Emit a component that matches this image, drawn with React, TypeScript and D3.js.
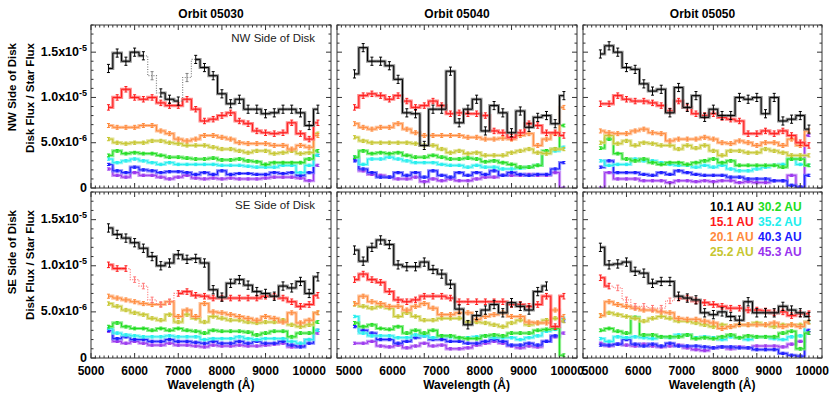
import React from 'react';
import * as d3 from 'd3';

// wavelength bins (Angstrom), values are disk/star flux in units of 1e-6
const wavelengths = [5400, 5600, 5800, 6000, 6200, 6400, 6600, 6800, 7000, 7200, 7400, 7600, 7800,
  8000, 8200, 8400, 8600, 8800, 9000, 9200, 9400, 9600, 9800, 10000, 10200];

const distances = ['10.1 AU', '15.1 AU', '20.1 AU', '25.2 AU', '30.2 AU', '35.2 AU', '40.3 AU', '45.3 AU'];
const colors = ['#000000', '#ff1a1a', '#ff8a3c', '#c6c630', '#22dd22', '#22eeee', '#1a1aff', '#9933ee'];
const errSizes = [0.45, 0.3, 0.22, 0.18, 0.15, 0.13, 0.12, 0.12];
const orbits = ['Orbit 05030', 'Orbit 05040', 'Orbit 05050'];
const sides = ['NW Side of Disk', 'SE Side of Disk'];

const yTickValues = [0, 5, 10, 15];
const yTickMantissa = ['0', '5.0x10', '1.0x10', '1.5x10'];
const yTickExponent = ['', '-6', '-5', '-5'];
const xTickValues = [5000, 6000, 7000, 8000, 9000, 10000];

const nw05030 = [
  [13.2, 14.9, 14.0, 15.0, 14.6, 12.4, 10.5, 9.8, 9.6, 12.2, 14.2, 13.3, 12.4, 10.4, 9.3, 9.8, 8.7, 8.7, 8.2, 8.3, 8.7, 8.7, 8.3, 6.9, 8.7],
  [8.9, 10.0, 10.9, 10.0, 9.8, 10.0, 9.4, 9.1, 9.1, 9.8, 8.7, 7.4, 7.6, 8.0, 8.3, 7.4, 7.1, 6.3, 6.1, 6.0, 6.1, 7.2, 6.0, 5.4, 7.2],
  [6.9, 6.7, 6.7, 6.7, 6.9, 6.9, 6.3, 6.0, 5.4, 5.2, 5.4, 5.8, 5.8, 5.6, 5.4, 5.0, 4.9, 4.9, 4.9, 4.7, 4.7, 4.3, 4.7, 4.5, 5.8],
  [5.4, 5.0, 4.9, 5.0, 5.0, 5.2, 5.2, 5.0, 4.9, 4.7, 4.7, 4.7, 4.5, 4.3, 4.3, 4.1, 3.9, 4.1, 4.1, 3.8, 3.9, 4.1, 3.8, 3.9, 6.0],
  [3.6, 4.1, 3.8, 3.9, 3.8, 3.8, 3.6, 3.4, 3.4, 3.3, 3.2, 3.2, 3.3, 3.1, 3.1, 3.2, 3.0, 2.9, 2.6, 2.8, 2.8, 2.8, 2.8, 3.2, 4.1],
  [3.2, 2.8, 3.0, 3.2, 3.0, 2.8, 2.6, 2.8, 2.6, 2.6, 2.6, 2.6, 2.6, 2.5, 2.5, 2.5, 2.4, 2.3, 2.3, 2.3, 2.5, 2.5, 1.7, 2.5, 3.6],
  [2.6, 1.9, 1.7, 2.3, 2.0, 1.9, 1.7, 1.8, 1.8, 1.7, 1.5, 1.7, 1.5, 1.9, 1.5, 1.6, 1.6, 1.5, 1.5, 1.7, 1.6, 1.7, 1.4, 1.7, 3.6],
  [2.1, 1.4, 1.2, 1.7, 1.4, 1.4, 1.2, 1.0, 1.2, 1.4, 1.1, 1.0, 1.1, 1.0, 1.1, 1.0, 1.0, 1.0, 1.1, 1.2, 1.2, 1.2, 1.1, 0.8, 2.5],
];

const nw05040 = [
  [12.6, 15.5, 14.0, 14.0, 13.5, 12.0, 8.3, 8.2, 4.7, 8.7, 8.7, 12.9, 7.2, 8.7, 9.8, 6.3, 9.1, 8.3, 6.1, 8.5, 6.7, 7.8, 8.0, 7.1, 10.2],
  [8.9, 10.2, 10.4, 10.2, 9.8, 10.2, 9.6, 8.9, 9.1, 9.6, 9.1, 8.2, 8.3, 8.2, 8.2, 8.0, 6.3, 6.1, 5.6, 6.1, 7.1, 6.9, 6.1, 6.1, 5.8],
  [7.1, 6.7, 6.5, 6.7, 6.7, 7.1, 6.5, 6.1, 5.8, 5.8, 5.8, 5.8, 5.8, 5.6, 5.6, 5.4, 5.4, 5.5, 5.4, 5.8, 6.0, 4.7, 5.4, 6.0, 8.9],
  [5.6, 5.2, 5.0, 5.0, 5.0, 5.0, 5.0, 4.9, 4.7, 4.7, 4.3, 3.9, 4.1, 3.8, 3.9, 3.6, 3.6, 3.6, 3.9, 4.1, 4.3, 3.9, 3.8, 4.3, 4.3],
  [3.4, 4.1, 3.8, 3.9, 3.8, 3.9, 3.6, 3.4, 3.4, 3.6, 3.4, 3.2, 3.2, 3.3, 3.2, 2.9, 3.0, 2.8, 2.6, 2.3, 2.3, 2.5, 4.1, 4.3, 6.9],
  [3.4, 2.6, 3.2, 3.2, 3.4, 3.2, 3.0, 2.8, 2.8, 2.8, 2.6, 2.5, 2.5, 2.3, 2.5, 2.3, 2.3, 2.1, 2.1, 2.2, 2.3, 2.5, 3.9, 4.1, 4.5],
  [3.0, 2.1, 1.7, 1.2, 1.2, 1.7, 1.4, 1.7, 1.2, 1.9, 1.4, 1.2, 1.7, 1.4, 1.7, 1.5, 1.9, 1.4, 1.7, 1.5, 1.4, 1.5, 1.5, 2.1, 2.8],
  [3.2, 1.9, 1.5, 1.4, 1.2, 1.0, 1.0, 1.2, 0.7, 1.0, 0.8, 1.0, 0.8, 0.8, 1.0, 1.2, 1.2, 1.4, 1.4, 1.4, 1.5, 1.4, 1.4, 1.7, 0.0],
];

const nw05050 = [
  [14.8, 15.7, 15.0, 13.3, 13.1, 11.5, 10.7, 10.9, 8.3, 11.1, 8.9, 10.2, 7.8, 8.7, 8.0, 8.0, 10.0, 9.8, 10.0, 8.2, 10.0, 7.4, 7.6, 8.0, 6.5],
  [9.3, 9.3, 10.2, 9.8, 9.6, 9.6, 9.4, 9.1, 8.5, 9.6, 8.9, 8.2, 8.0, 8.2, 7.8, 7.6, 7.4, 6.0, 6.0, 6.3, 6.0, 6.3, 5.8, 5.0, 4.7],
  [6.3, 6.1, 6.0, 6.0, 6.3, 6.5, 6.1, 6.0, 5.2, 5.4, 5.4, 5.4, 5.6, 5.4, 5.0, 4.9, 5.2, 5.0, 4.7, 5.0, 5.0, 4.7, 5.4, 4.7, 6.3],
  [5.0, 5.8, 4.9, 5.2, 4.7, 5.0, 4.9, 4.7, 4.7, 4.3, 4.7, 4.4, 4.7, 4.1, 3.6, 4.1, 4.1, 3.9, 3.9, 4.3, 4.1, 3.9, 3.6, 3.6, 3.6],
  [4.4, 5.4, 3.8, 3.2, 3.0, 3.2, 2.8, 2.6, 2.8, 2.8, 2.6, 2.8, 3.0, 3.2, 2.8, 3.0, 2.5, 2.5, 2.5, 2.5, 2.5, 2.3, 3.2, 3.2, 2.5],
  [3.0, 2.5, 2.6, 2.6, 3.2, 3.0, 3.0, 2.8, 2.6, 2.5, 2.5, 2.3, 2.5, 2.3, 2.5, 2.1, 1.9, 1.9, 2.1, 2.3, 2.5, 2.6, 3.2, 2.6, 2.5],
  [2.3, 3.0, 1.7, 1.7, 1.7, 1.5, 1.4, 1.7, 1.5, 1.9, 1.7, 1.5, 1.4, 1.4, 1.4, 1.2, 1.2, 1.0, 1.0, 1.0, 0.8, 0.8, 0.3, 0.1, 1.4],
  [0.0, 1.7, 1.0, 1.0, 1.0, 0.8, 0.8, 0.8, 0.6, 0.8, 0.8, 0.7, 0.8, 0.7, 0.8, 0.8, 0.6, 0.7, 0.6, 0.6, 0.8, 0.8, 1.4, 0.1, 5.8],
];

const se05030 = [
  [14.1, 13.4, 13.0, 12.5, 11.9, 11.0, 10.0, 10.3, 11.2, 10.7, 10.8, 10.3, 7.4, 6.6, 8.1, 8.5, 7.9, 7.2, 7.0, 6.7, 7.8, 7.6, 8.3, 7.0, 8.8],
  [10.1, 9.7, 9.7, 8.5, 7.8, 6.3, 5.8, 6.1, 7.0, 7.2, 6.8, 6.7, 6.5, 6.5, 6.5, 6.5, 6.5, 6.5, 6.7, 6.7, 6.5, 6.1, 5.6, 5.8, 6.8],
  [6.7, 6.5, 6.3, 6.1, 5.9, 5.8, 5.8, 6.1, 4.5, 5.2, 4.5, 5.9, 5.0, 4.9, 4.7, 4.5, 4.3, 4.1, 4.5, 4.3, 3.9, 4.9, 3.8, 4.1, 4.9],
  [5.9, 5.6, 5.2, 4.9, 4.7, 4.3, 4.1, 4.7, 3.9, 4.7, 4.3, 3.9, 4.5, 4.3, 4.1, 4.1, 3.9, 3.8, 3.9, 3.9, 4.1, 3.6, 3.4, 3.6, 4.9],
  [3.4, 3.8, 3.4, 3.2, 3.2, 3.0, 3.2, 3.0, 3.2, 3.0, 2.9, 2.7, 3.0, 2.9, 2.9, 2.9, 2.8, 2.5, 2.7, 2.9, 2.9, 2.3, 2.7, 2.7, 3.9],
  [3.2, 2.7, 2.5, 2.4, 2.3, 2.3, 2.3, 2.4, 2.3, 2.3, 2.3, 2.0, 2.1, 2.1, 2.1, 2.3, 2.1, 2.0, 2.1, 2.1, 2.1, 1.8, 1.6, 2.0, 3.0],
  [3.0, 2.1, 2.3, 2.0, 2.0, 1.8, 1.8, 2.0, 1.8, 1.8, 1.7, 1.6, 1.8, 1.6, 1.6, 1.8, 1.6, 1.8, 1.6, 1.6, 1.8, 1.4, 1.2, 1.6, 3.0],
  [2.9, 1.8, 1.6, 1.8, 1.6, 1.4, 1.4, 1.6, 1.4, 1.4, 1.3, 1.2, 1.4, 1.3, 1.3, 1.4, 1.3, 1.3, 1.4, 1.5, 1.6, 1.2, 1.4, 2.0, 2.7],
];

const se05040 = [
  [11.7, 10.5, 12.0, 12.8, 12.3, 10.1, 9.9, 9.9, 10.4, 9.6, 9.1, 8.0, 5.3, 3.6, 4.6, 5.2, 5.8, 4.9, 6.0, 5.6, 5.2, 7.2, 7.8, null, null],
  [8.5, 9.1, 8.5, 8.2, 7.2, 6.3, 6.1, 6.3, 6.7, 6.7, 6.7, 6.5, 6.1, 6.1, 6.1, 6.1, 6.1, 6.1, 5.8, 5.8, 5.6, 5.8, 6.7, 3.4, 6.7],
  [5.9, 6.7, 6.1, 5.9, 5.6, 5.6, 5.2, 5.6, 5.9, 5.4, 4.7, 4.7, 4.9, 4.9, 4.2, 4.5, 4.7, 4.9, 4.5, 4.5, 3.9, 3.8, 3.8, 5.2, 4.5],
  [5.8, 5.6, 5.4, 5.6, 5.4, 4.5, 4.9, 4.5, 4.1, 4.1, 4.3, 4.3, 4.3, 3.9, 3.9, 3.8, 3.6, 3.4, 3.8, 4.1, 3.6, 3.8, 4.1, 4.3, 4.0],
  [3.8, 3.4, 3.6, 3.2, 3.1, 3.4, 2.7, 3.0, 2.7, 3.0, 2.4, 2.4, 2.2, 2.1, 2.1, 2.4, 2.5, 2.4, 2.7, 2.7, 2.7, 3.0, 3.1, 3.2, 0.3],
  [4.5, 2.7, 2.4, 2.4, 2.4, 2.2, 2.2, 2.5, 2.4, 2.2, 2.4, 2.3, 2.2, 2.2, 2.3, 2.4, 2.2, 2.2, 2.2, 2.0, 2.2, 2.4, 2.9, 3.1, 4.3],
  [3.4, 3.0, 2.7, 2.0, 2.0, 1.6, 1.8, 2.2, 2.4, 2.0, 2.0, 1.8, 1.8, 1.6, 1.6, 1.8, 2.0, 1.8, 1.4, 1.4, 1.6, 1.4, 1.8, 2.4, 4.0],
  [1.6, 1.6, 1.8, 1.3, 1.2, 1.4, 1.1, 1.3, 1.6, 1.3, 1.4, 1.0, 1.0, 1.1, 1.4, 1.6, 1.8, 1.6, 1.3, 1.1, 1.3, 1.2, 1.8, 2.3, 2.7],
];

const se05050 = [
  [12.0, 10.1, 10.2, 10.4, 9.4, 9.2, 8.1, 8.3, 8.3, 6.7, 6.5, 6.3, 4.9, 4.7, 5.0, 4.5, 4.1, 6.1, 4.9, 4.9, 4.9, 5.6, 5.2, 4.9, 4.5],
  [8.7, 7.8, 7.6, 6.3, 5.6, 5.6, 5.4, 5.4, 6.2, 6.5, 6.5, 6.2, 6.0, 5.8, 5.6, 5.4, 5.4, 5.2, 5.2, 5.1, 4.9, 5.0, 4.6, 4.8, 4.8],
  [4.6, 6.1, 5.8, 5.6, 5.4, 5.2, 5.2, 5.0, 4.9, 4.3, 4.2, 4.2, 4.0, 3.8, 3.2, 3.4, 3.6, 3.6, 3.6, 3.6, 3.8, 3.4, 3.6, 3.4, 3.9],
  [4.6, 4.9, 4.7, 4.5, 4.3, 4.0, 4.3, 4.5, 4.3, 4.0, 4.0, 3.8, 3.6, 3.4, 3.6, 3.4, 3.6, 3.6, 3.8, 3.6, 3.4, 3.6, 3.6, 3.6, 3.9],
  [3.0, 3.2, 2.9, 2.7, 4.4, 2.5, 2.5, 2.3, 2.3, 2.3, 2.5, 2.1, 2.2, 2.1, 2.3, 2.5, 2.2, 2.4, 2.3, 2.3, 2.3, 2.7, 2.9, 1.0, 2.7],
  [2.1, 1.8, 2.3, 2.2, 2.3, 2.2, 2.1, 2.3, 2.2, 2.5, 2.5, 2.2, 2.3, 2.2, 2.0, 2.3, 2.2, 2.0, 2.3, 2.3, 2.1, 2.0, 2.3, 2.4, 3.9],
  [1.4, 1.4, 1.5, 2.0, 1.5, 1.3, 1.5, 1.3, 1.6, 1.3, 1.3, 1.3, 1.2, 1.1, 1.2, 1.2, 1.1, 1.1, 0.9, 0.9, 0.9, 0.5, 0.3, 0.2, 3.0],
  [1.6, 1.3, 1.5, 1.4, 1.3, 1.5, 1.3, 1.2, 1.3, 1.4, 1.1, 0.9, 0.8, 1.1, 1.2, 1.0, 1.2, 1.1, 1.3, 1.3, 1.3, 1.2, 1.5, 1.8, 2.7],
];

const panels = [[nw05030, nw05040, nw05050], [se05030, se05040, se05050]];

// stretches drawn as a dotted line: [row, col, series, from, to]
const dottedSpans = [
  [0, 0, 0, 6200, 6600],
  [0, 0, 0, 7000, 7400],
  [1, 0, 1, 5800, 7000],
  [1, 2, 1, 5600, 7200],
];

const W = 830;
const H = 394;
const colX = [[91, 331], [337, 577], [583, 822]];
const rowY = [[25, 188], [192, 358]];
const labelShift = [0, 12, 12];
const FONT = '"Liberation Sans", Arial, sans-serif';
const frameColor = '#333';

type Pt = { wl: number; v: number | null };

function Panel({ row, col }: { row: number; col: number }) {
  const [x0, x1] = colX[col];
  const [y0, y1] = rowY[row];
  const x = d3.scaleLinear().domain([5000, 10500]).range([x0, x1]);
  const y = d3.scaleLinear().domain([0, 18]).range([y1, y0]);
  const data = panels[row][col];
  const clipId = `clip-${row}-${col}`;

  const minorX = d3.range(5000, 10501, 100);
  const minorY = d3.range(0, 18.01, 1);

  const ticks: JSX.Element[] = [];
  minorX.forEach((v, i) => {
    const len = v % 1000 === 0 ? 5 : 2.5;
    const px = x(v);
    ticks.push(<line key={'xb' + i} x1={px} x2={px} y1={y1} y2={y1 - len} />);
    ticks.push(<line key={'xt' + i} x1={px} x2={px} y1={y0} y2={y0 + len} />);
  });
  minorY.forEach((v, i) => {
    const len = Math.round(v) % 5 === 0 ? 5 : 2.5;
    const py = y(v);
    ticks.push(<line key={'yl' + i} x1={x0} x2={x0 + len} y1={py} y2={py} />);
    ticks.push(<line key={'yr' + i} x1={x1} x2={x1 - len} y1={py} y2={py} />);
  });

  const series = data.map((vals, s) => {
    const pts: Pt[] = vals.map((v, i) => ({ wl: wavelengths[i], v }));
    const spans = dottedSpans.filter(d => d[0] === row && d[1] === col && d[2] === s);
    const inSpan = (wl: number, strict: boolean) =>
      spans.some(d => (strict ? wl > d[3] && wl < d[4] : wl >= d[3] && wl <= d[4]));
    const mk = () => d3.line<Pt>().x(d => x(d.wl)).y(d => y(d.v as number)).curve(d3.curveStep);
    const solid = mk().defined(d => d.v != null && !inSpan(d.wl, true))(pts) || '';
    const dotted = spans.length ? mk().defined(d => d.v != null && inSpan(d.wl, false))(pts) || '' : '';
    const c = colors[s];
    const light = d3.interpolateRgb(c, '#ffffff')(s === 0 ? 0.5 : 0.4);
    const e = errSizes[s];
    return (
      <g key={s}>
        <path d={solid} fill="none" stroke={light} strokeWidth={s === 0 ? 3 : 3.2} strokeOpacity={0.85} />
        <path d={solid} fill="none" stroke={c} strokeWidth={1} />
        {dotted && <path d={dotted} fill="none" stroke={light} strokeWidth={1.2} strokeDasharray="1,1.5" />}
        {pts.filter(p => p.v != null).map((p, i) => {
          const px = x(p.wl);
          const ec = inSpan(p.wl, true) ? light : c;
          const lo = y((p.v as number) - e);
          const hi = y((p.v as number) + e);
          return (
            <g key={i} stroke={ec} strokeWidth={1}>
              <line x1={px} x2={px} y1={lo} y2={hi} />
              <line x1={px - 1.5} x2={px + 1.5} y1={lo} y2={lo} />
              <line x1={px - 1.5} x2={px + 1.5} y1={hi} y2={hi} />
            </g>
          );
        })}
      </g>
    );
  }).reverse();

  return (
    <g>
      <defs>
        <clipPath id={clipId}>
          <rect x={x0} y={y0} width={x1 - x0} height={y1 - y0} />
        </clipPath>
      </defs>
      <g clipPath={`url(#${clipId})`}>{series}</g>
      <rect x={x0} y={y0} width={x1 - x0} height={y1 - y0} fill="none" stroke={frameColor} strokeWidth={1} />
      <g stroke={frameColor} strokeWidth={1}>{ticks}</g>
      {col === 0 && yTickValues.map((v, i) => (
        <text key={'yt' + i} x={x0 - 4} y={y(v) + 3.5} textAnchor="end" fontFamily={FONT}
          fontWeight="bold" fontSize={12.5} fill="#000">
          {yTickMantissa[i]}
          {yTickExponent[i] && <tspan dy={-5} fontSize={9}>{yTickExponent[i]}</tspan>}
        </text>
      ))}
      {row === 1 && xTickValues.map((v, i) => (
        <text key={'xt' + i} x={x(v) + labelShift[col]} y={374.5} textAnchor="middle" fontFamily={FONT}
          fontWeight="bold" fontSize={12} fill="#000">{v}</text>
      ))}
      {row === 1 && (
        <text x={(x0 + x1) / 2 + labelShift[col] * 0.8} y={388.5} textAnchor="middle" fontFamily={FONT}
          fontWeight="bold" fontSize={12} fill="#000">Wavelength (Å)</text>
      )}
      {row === 0 && (
        <text x={(x0 + x1) / 2} y={18} textAnchor="middle" fontFamily={FONT}
          fontWeight="bold" fontSize={12} fill="#000">{orbits[col]}</text>
      )}
      {col === 0 && (
        <text x={x1 - 16} y={y0 + 17} textAnchor="end" fontFamily={FONT} fontSize={11.5} fill="#222">
          {sides[row]}
        </text>
      )}
      {col === 0 && (
        <g fontFamily={FONT} fontWeight="bold" fontSize={11.5} fill="#000">
          <text transform={`translate(15.5,${y0 + 18}) rotate(-90)`} textAnchor="end">{sides[row]}</text>
          <text transform={`translate(33.5,${y0 + 18}) rotate(-90)`} textAnchor="end">Disk Flux / Star Flux</text>
        </g>
      )}
    </g>
  );
}

function Legend() {
  return (
    <g fontFamily={FONT} fontWeight="bold" fontSize={12}>
      {distances.map((d, i) => (
        <text key={i} x={i < 4 ? 710 : 758} y={211 + (i % 4) * 15} fill={colors[i]}>{d}</text>
      ))}
    </g>
  );
}

export default function App() {
  return (
    <div style={{ position: 'absolute', left: 0, top: 0 }}>
      <svg width={W} height={H} style={{ display: 'block', background: '#fff' }}>
        {[0, 1].map(r => [0, 1, 2].map(c => <Panel key={`${r}-${c}`} row={r} col={c} />))}
        <Legend />
      </svg>
    </div>
  );
}
